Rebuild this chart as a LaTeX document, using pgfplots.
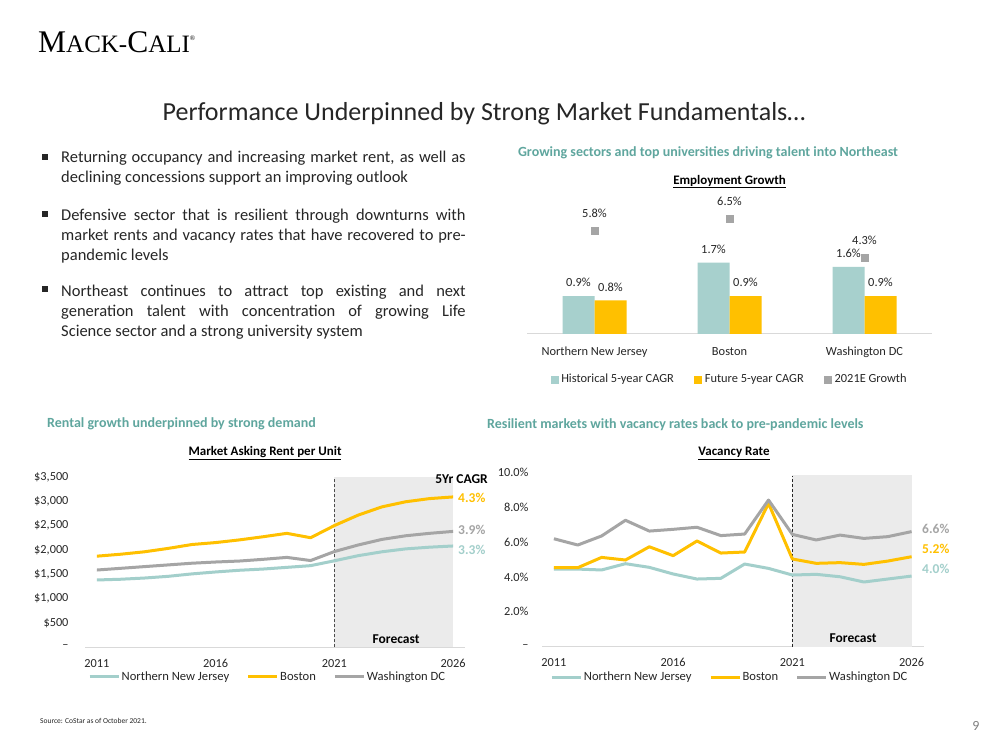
\documentclass[border=0pt]{standalone}
\usepackage{pgfplots}
\usepackage{pgfplotstable}
\pgfplotsset{compat=1.18}
\usepackage{fontspec}
\setmainfont{Carlito}
\newfontfamily\logofont{Liberation Serif}
\definecolor{tealhd}{HTML}{5FA69E}
\definecolor{tealbar}{HTML}{A7D0CD}
\definecolor{tealln}{HTML}{A3CFCB}
\definecolor{orng}{HTML}{FFC000}
\definecolor{gry}{HTML}{A5A5A5}
\definecolor{shade}{HTML}{EBEBEB}
\definecolor{txt}{HTML}{262626}
\definecolor{axln}{HTML}{D9D9D9}
\newcommand{\fs}[1]{\fontsize{#1}{#1}\selectfont}

\pgfplotstableread{
year nnj bos dc
2011 1380 1870 1585
2012 1395 1910 1620
2013 1420 1960 1655
2014 1455 2030 1690
2015 1505 2110 1725
2016 1545 2150 1750
2017 1580 2205 1770
2018 1605 2270 1805
2019 1640 2340 1845
2020 1675 2250 1780
2021 1775 2500 1965
2022 1880 2715 2100
2023 1960 2885 2215
2024 2020 2990 2290
2025 2055 3055 2340
2026 2080 3090 2380
}\renttable

\pgfplotstableread{
year nnj bos dc
2011 4.45 4.53 6.19
2012 4.45 4.53 5.83
2013 4.40 5.12 6.35
2014 4.76 4.97 7.25
2015 4.55 5.73 6.63
2016 4.17 5.22 6.73
2017 3.88 6.06 6.85
2018 3.92 5.37 6.37
2019 4.74 5.43 6.46
2020 4.49 8.22 8.41
2021 4.11 5.03 6.44
2022 4.15 4.78 6.12
2023 4.01 4.82 6.40
2024 3.71 4.72 6.21
2025 3.88 4.91 6.31
2026 4.05 5.16 6.60
}\vactable

\pgfplotsset{
 lineaxis/.style={
   anchor=south west, scale only axis, clip=false,
   xmin=2010.5, xmax=2026.5, ymin=0,
   axis x line*=bottom, axis y line*=left,
   y axis line style={draw=none},
   x axis line style={axln, line width=1pt, -},
   xtick={2011,2016,2021,2026}, xticklabels={2011,2016,2021,2026},
   xtick style={draw=none}, ytick style={draw=none},
   xticklabel style={font=\fs{12.3}, text=txt, text height=8pt, text depth=0pt, yshift=-8.5pt},
   yticklabel style={font=\fs{12.3}, text=txt},
   legend columns=3,
   legend image code/.code={\draw[line width=3pt,##1] (0pt,0pt) -- (29pt,0pt);},
   legend style={draw=none, fill=none, font=\fs{12.6}, text=txt, anchor=center, inner sep=0pt,
      nodes={inner sep=1.5pt},
      /tikz/every odd column/.append style={column sep=0pt},
      /tikz/every even column/.append style={column sep=16pt}},
 },
 ser/.style={line width=3pt, line join=round, #1},
}

\begin{document}
\begin{tikzpicture}[x=1pt,y=1pt]
\path[use as bounding box, fill=white] (0,0) rectangle (1000,750);

% logo
\node[anchor=base west, inner sep=0pt, font=\logofont, text=black] at (38,697.5)
  {{\fs{31.5}M}{\fs{25}ACK}{\fs{25}-}{\fs{31.5}C}{\fs{25}ALI}\raisebox{12pt}{\fs{7}®}};

% main title
\node[anchor=base, font=\fs{26}, text=black!85, inner sep=0pt] at (484,629.3)
  {Performance Underpinned by Strong Market Fundamentals…};

% bullets
\fill[black!85] (42,590) rectangle (48,596);
\fill[black!85] (42,533) rectangle (48,539);
\fill[black!85] (42,458) rectangle (48,464);
\node[anchor=north west, inner sep=0pt, text width=404.5pt, align=justify, font=\fontsize{16.5}{20}\selectfont, text=black!85] at (61,599)
  {\hyphenpenalty=10000 Returning occupancy and increasing market rent, as well as\linebreak declining concessions support an improving outlook};
\node[anchor=north west, inner sep=0pt, text width=404.5pt, align=justify, font=\fontsize{16.5}{20}\selectfont, text=black!85] at (61,541.6)
  {\hyphenpenalty=10000 Defensive sector that is resilient through downturns with\linebreak market rents and vacancy rates that have recovered to pre-\linebreak pandemic levels};
\node[anchor=north west, inner sep=0pt, text width=404.5pt, align=justify, font=\fontsize{16.5}{20}\selectfont, text=black!85] at (61,465)
  {\hyphenpenalty=10000 Northeast continues to attract top existing and next\linebreak generation talent with concentration of growing Life\linebreak Science sector and a strong university system};

% section headings
\node[anchor=base, inner sep=0pt, font=\bfseries\fs{14}, text=tealhd] at (708,593.5)
  {Growing sectors and top universities driving talent into Northeast};
\node[anchor=base, inner sep=0pt, font=\bfseries\fs{13}, text=black] at (729.5,565.8)
  {\underline{Employment Growth}};
\node[anchor=base west, inner sep=0pt, font=\bfseries\fs{14}, text=tealhd] at (47,322.5)
  {Rental growth underpinned by strong demand};
\node[anchor=base, inner sep=0pt, font=\bfseries\fs{13}, text=black] at (265,294.8)
  {\underline{Market Asking Rent per Unit}};
\node[anchor=base west, inner sep=0pt, font=\bfseries\fs{14}, text=tealhd] at (487,321.5)
  {Resilient markets with vacancy rates back to pre-pandemic levels};
\node[anchor=base, inner sep=0pt, font=\bfseries\fs{13}, text=black] at (734,294.1)
  {\underline{Vacancy Rate}};

% ---------- Employment growth: bars ----------
\begin{axis}[at={(527pt,416pt)}, anchor=south west, scale only axis, width=405pt, height=144pt,
  xmin=-0.5, xmax=2.5, ymin=0, ymax=3.43, clip=false,
  axis x line*=bottom, axis y line=none,
  x axis line style={axln, line width=1pt, -},
  xtick={0,1,2}, xticklabels={Northern New Jersey, Boston, Washington DC},
  xtick style={draw=none},
  xticklabel style={font=\fs{12.4}, text=txt, text height=9pt, text depth=3pt, yshift=-8.5pt},
  ytick=\empty]
\addplot[ybar, bar width=32pt, bar shift=-16pt, fill=tealbar, draw=none,
  point meta=explicit symbolic, nodes near coords,
  nodes near coords style={font=\fs{12.4}, text=txt, anchor=south, inner sep=0pt, yshift=9pt, xshift=-16pt}]
  coordinates {(0,0.9) [0.9\%] (1,1.7) [1.7\%] (2,1.6) [1.6\%]};
\addplot[ybar, bar width=32pt, bar shift=16pt, fill=orng, draw=none,
  point meta=explicit symbolic, nodes near coords,
  nodes near coords style={font=\fs{12.4}, text=txt, anchor=south, inner sep=0pt, yshift=9pt, xshift=16pt}]
  coordinates {(0,0.8) [0.8\%] (1,0.9) [0.9\%] (2,0.9) [0.9\%]};
\end{axis}
% ---------- Employment growth: 2021E markers (secondary axis) ----------
\begin{axis}[at={(527pt,416pt)}, anchor=south west, scale only axis, width=405pt, height=144pt,
  xmin=-0.5, xmax=2.5, ymin=0, ymax=8.1, clip=false, axis lines=none,
  legend columns=3,
  legend style={at={(0.5,-0.315)}, anchor=center, draw=none, fill=none, font=\fs{12.4}, text=txt,
    inner sep=0pt, nodes={inner sep=1.5pt},
    /tikz/every odd column/.append style={column sep=1.5pt},
    /tikz/every even column/.append style={column sep=19pt}}]
\addlegendimage{legend image code/.code={\fill[tealbar] (0pt,-3.5pt) rectangle (7pt,3.5pt);}}
\addlegendentry{Historical 5-year CAGR}
\addlegendimage{legend image code/.code={\fill[orng] (0pt,-3.5pt) rectangle (7pt,3.5pt);}}
\addlegendentry{Future 5-year CAGR}
\addplot[only marks, mark=square*, mark size=3.5pt, color=gry,
  legend image code/.code={\fill[gry] (0pt,-3.5pt) rectangle (7pt,3.5pt);},
  point meta=explicit symbolic, nodes near coords,
  nodes near coords style={font=\fs{12.4}, text=txt, anchor=south, inner sep=0pt, yshift=13pt}]
  coordinates {(0,5.8) [5.8\%] (1,6.5) [6.5\%] (2,4.3) [4.3\%]};
\addlegendentry{2021E Growth}
\end{axis}

% ---------- Market asking rent ----------
\begin{axis}[lineaxis, at={(85pt,103pt)}, width=380pt, height=170pt, ymax=3500,
  ytick={0,500,...,3500},
  yticklabels={–,\$500,{\$1,000},{\$1,500},{\$2,000},{\$2,500},{\$3,000},{\$3,500}},
  yticklabel style={xshift=-13pt},
  legend style={at={(0.48,-0.176)}}]
\addplot[fill=shade, draw=none, forget plot] coordinates {(2021,3500) (2026,3500)} \closedcycle;
\addplot[black!70, line width=0.8pt, dash pattern=on 3pt off 2pt, forget plot] coordinates {(2021,0) (2021,3480)};
\addplot[ser=tealln] table[x=year,y=nnj] {\renttable};
\addlegendentry{Northern New Jersey}
\addplot[ser=orng] table[x=year,y=bos] {\renttable};
\addlegendentry{Boston}
\addplot[ser=gry] table[x=year,y=dc] {\renttable};
\addlegendentry{Washington DC}
\end{axis}

% ---------- Vacancy rate ----------
\begin{axis}[lineaxis, at={(542pt,103.3pt)}, width=381.5pt, height=174.4pt, ymax=10,
  ytick={0,2,...,10},
  yticklabels={–,2.0\%,4.0\%,6.0\%,8.0\%,10.0\%},
  yticklabel style={xshift=-10pt},
  legend style={at={(0.492,-0.174)}}]
\addplot[fill=shade, draw=none, forget plot] coordinates {(2021,9.85) (2026,9.85)} \closedcycle;
\addplot[black!85, line width=0.8pt, dash pattern=on 3pt off 2pt, forget plot] coordinates {(2021,0) (2021,9.8)};
\addplot[ser=tealln] table[x=year,y=nnj] {\vactable};
\addlegendentry{Northern New Jersey}
\addplot[ser=orng] table[x=year,y=bos] {\vactable};
\addlegendentry{Boston}
\addplot[ser=gry] table[x=year,y=dc] {\vactable};
\addlegendentry{Washington DC}
\end{axis}

% chart annotations
\node[anchor=base, inner sep=0pt, font=\bfseries\fs{13.5}, text=black] at (396,106.8) {Forecast};
\node[anchor=base, inner sep=0pt, font=\bfseries\fs{13.5}, text=black] at (853,107.8) {Forecast};
\node[anchor=base east, inner sep=0pt, font=\bfseries\fs{13.5}, text=black] at (488,266.5) {5Yr CAGR};
\node[anchor=base west, inner sep=0pt, font=\bfseries\fs{13.5}, text=orng] at (458,247.8) {4.3\%};
\node[anchor=base west, inner sep=0pt, font=\bfseries\fs{13.5}, text=gry] at (458,215.8) {3.9\%};
\node[anchor=base west, inner sep=0pt, font=\bfseries\fs{13.5}, text=tealln] at (458,195.8) {3.3\%};
\node[anchor=base west, inner sep=0pt, font=\bfseries\fs{13.5}, text=gry] at (922,216.8) {6.6\%};
\node[anchor=base west, inner sep=0pt, font=\bfseries\fs{13.5}, text=orng] at (922,196.8) {5.2\%};
\node[anchor=base west, inner sep=0pt, font=\bfseries\fs{13.5}, text=tealln] at (922,176.8) {4.0\%};

% footer
\node[anchor=base west, inner sep=0pt, font=\fs{7.5}, text=black!85] at (40,27) {Source: CoStar as of October 2021.};
\node[anchor=base, inner sep=0pt, font=\fs{14}, text=black!50] at (976,19.5) {9};
\end{tikzpicture}
\end{document}
